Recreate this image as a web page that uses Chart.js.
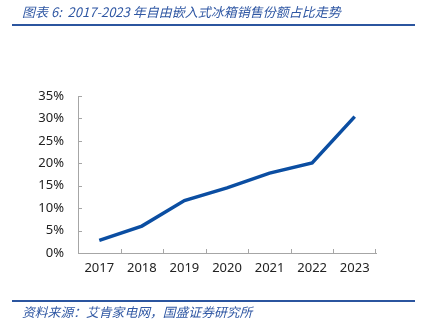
<!DOCTYPE html>
<html>
<head>
<meta charset="utf-8">
<script src="https://cdn.jsdelivr.net/npm/chart.js@4"></script>
<style>
  html, body { margin: 0; padding: 0; background: #fff; }
  #wrap { position: relative; width: 424px; height: 329px; overflow: hidden; }
  #chart { position: absolute; left: 0; top: 0; }
  .title { position: absolute; left: 22px; top: 2px; font: italic 13px "Noto Sans CJK SC", sans-serif; color: #2f57a3; white-space: nowrap; }
  .rule { position: absolute; left: 12px; width: 403px; height: 2px; background: #2b559f; }
  .src { position: absolute; left: 22px; top: 302px; font: italic 12.8px "Noto Sans CJK SC", sans-serif; color: #2f57a3; white-space: nowrap; }
</style>
</head>
<body>
<div id="wrap">
  <canvas id="chart" width="424" height="329"></canvas>
  <div class="title">图表 6:&nbsp; 2017-2023 年自由嵌入式冰箱销售份额占比走势</div>
  <div class="rule" style="top:24px"></div>
  <div class="rule" style="top:300px"></div>
  <div class="src">资料来源：艾肯家电网，国盛证券研究所</div>
</div>
<script>
const anos = ["2017", "2018", "2019", "2020", "2021", "2022", "2023"];
const participacao = [2.8, 6.0, 11.7, 14.5, 17.8, 20.1, 30.4];
const yMax = 35;
const yPasso = 5;

const corEixo = "#a6a6a6";

// marcas de tick voltadas para dentro
const ticksInternos = {
  id: "ticksInternos",
  afterDraw(chart) {
    const ctx = chart.ctx;
    const x = chart.scales.x, y = chart.scales.y;
    const area = chart.chartArea;
    ctx.save();
    ctx.strokeStyle = corEixo;
    ctx.lineWidth = 1;
    ctx.beginPath();
    for (let v = 0; v <= yMax; v += yPasso) {
      const py = Math.round(y.getPixelForValue(v)) + 0.5;
      ctx.moveTo(area.left, py);
      ctx.lineTo(area.left + 4, py);
    }
    for (let i = 1; i <= anos.length; i++) {
      const px = Math.round((x.getPixelForValue(i - 1) + x.getPixelForValue(i)) / 2) + 0.5;
      const pxFinal = i === anos.length ? Math.round(area.right) - 0.5 : px;
      ctx.moveTo(pxFinal, area.bottom);
      ctx.lineTo(pxFinal, area.bottom - 4);
    }
    ctx.stroke();
    ctx.restore();
  }
};

new Chart(document.getElementById("chart").getContext("2d"), {
  type: "line",
  data: {
    labels: anos,
    datasets: [{
      data: participacao,
      borderColor: "#0b4ea2",
      borderWidth: 3.5,
      pointRadius: 0,
      tension: 0,
      fill: false
    }]
  },
  options: {
    responsive: false,
    animation: false,
    layout: { padding: { left: 0, right: 48, top: 96, bottom: 0 } },
    plugins: { legend: { display: false }, tooltip: { enabled: false } },
    scales: {
      x: {
        offset: true,
        grid: { display: false, drawTicks: false },
        border: { display: true, color: corEixo, width: 1 },
        ticks: { color: "#222", font: { family: "Noto Sans", size: 13 }, padding: 7, maxRotation: 0 },
        afterFit: s => { s.height = 76; }
      },
      y: {
        min: 0,
        max: yMax,
        grid: { display: false, drawTicks: false },
        border: { display: true, color: corEixo, width: 1 },
        ticks: {
          stepSize: yPasso,
          color: "#222",
          font: { family: "Noto Sans", size: 13 },
          padding: 14,
          callback: v => v + "%"
        },
        afterFit: s => { s.width = 78; }
      }
    }
  },
  plugins: [ticksInternos]
});
</script>
</body>
</html>
